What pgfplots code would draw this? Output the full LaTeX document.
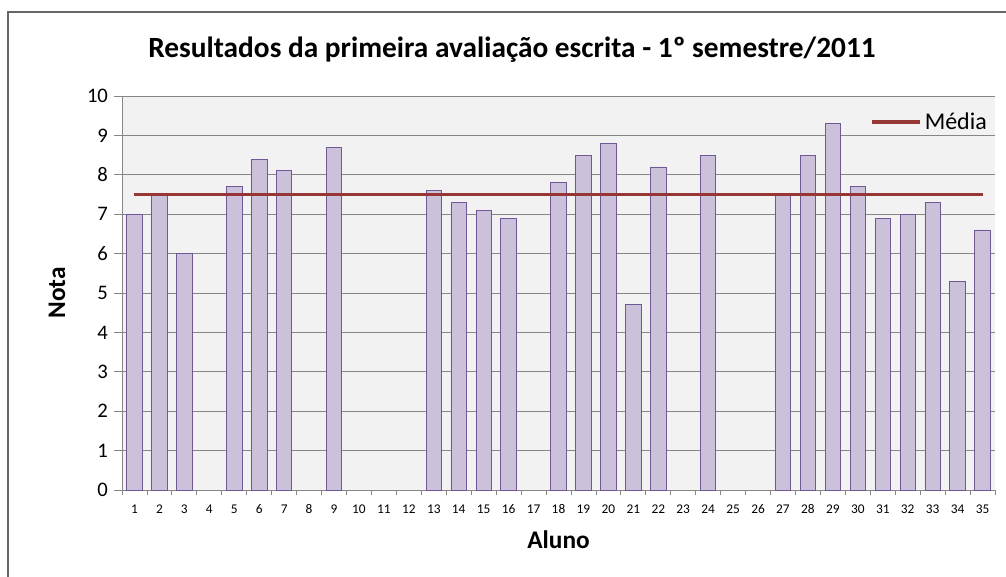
\documentclass[border=0pt]{standalone}
\usepackage{pgfplots}
\pgfplotsset{compat=1.18}
\usepackage{fontspec}
\setmainfont{Carlito}
\definecolor{barfill}{RGB}{204,193,218}
\definecolor{baredge}{RGB}{112,88,150}
\definecolor{plotbg}{RGB}{242,242,242}
\definecolor{gridc}{RGB}{134,134,134}
\definecolor{meanc}{RGB}{150,55,53}
\begin{document}
\begin{tikzpicture}
\useasboundingbox (0pt,0pt) rectangle (754.5pt,432pt);
\draw[gray!80!black, line width=1.2pt] (6pt,-20pt) -- (6pt,423pt) -- (780pt,423pt);
\node[font=\fontsize{22}{26}\selectfont\bfseries] at (384pt,394.5pt) {Resultados da primeira avaliação escrita - 1º semestre/2011};
\begin{axis}[
  at={(91.5pt,64.5pt)}, anchor=south west,
  scale only axis, width=654.75pt, height=295.5pt,
  xmin=0.5, xmax=35.5, ymin=0, ymax=10,
  axis background/.style={fill=plotbg},
  axis x line*=bottom, axis y line*=left,
  axis line style={gridc, line width=0.6pt, -},
  xtick={1,...,35},
  minor xtick={0.5,1.5,...,35.5},
  ytick={0,...,10},
  major x tick style={draw=none},
  minor x tick style={gridc, line width=0.6pt},
  y tick style={gridc, line width=0.6pt},
  minor tick length=4pt, major tick length=6pt,
  tick align=outside,
  ymajorgrids, grid style={gridc, line width=0.6pt},
  /pgf/number format/assume math mode=true,
  xticklabel style={font=\fontsize{10}{12}\selectfont, text height=7pt, text depth=0pt, anchor=north, yshift=-1pt},
  yticklabel style={font=\fontsize{15.5}{18}\selectfont, xshift=-1pt},
  xlabel={\bfseries Aluno}, ylabel={\bfseries Nota},
  xlabel style={font=\fontsize{19}{22}\selectfont, at={(axis description cs:0.5,-0.127)}, anchor=center},
  ylabel style={font=\fontsize{19}{22}\selectfont, at={(axis description cs:-0.0745,0.5)}, anchor=center},
  legend style={at={(0.994,0.934)}, anchor=east, draw=none, fill=none, inner sep=0pt, font=\fontsize{18}{21}\selectfont},
  legend image code/.code={\draw[#1, line width=2.5pt] (0pt,0pt) -- (36pt,0pt);},
]
\addplot[ybar, bar width=11.6pt, fill=barfill, draw=baredge, line width=0.6pt, forget plot] coordinates {
(1,7.0) (2,7.5) (3,6.0) (5,7.7) (6,8.4) (7,8.1) (9,8.7)
(13,7.6) (14,7.3) (15,7.1) (16,6.9) (18,7.8) (19,8.5) (20,8.8)
(21,4.7) (22,8.2) (24,8.5) (27,7.5) (28,8.5) (29,9.3) (30,7.7)
(31,6.9) (32,7.0) (33,7.3) (34,5.3) (35,6.6)
};
\addplot[meanc, line width=2.5pt, mark=none] coordinates {(1,7.5) (35,7.5)};
\addlegendentry{Média}
\end{axis}
\end{tikzpicture}
\end{document}
